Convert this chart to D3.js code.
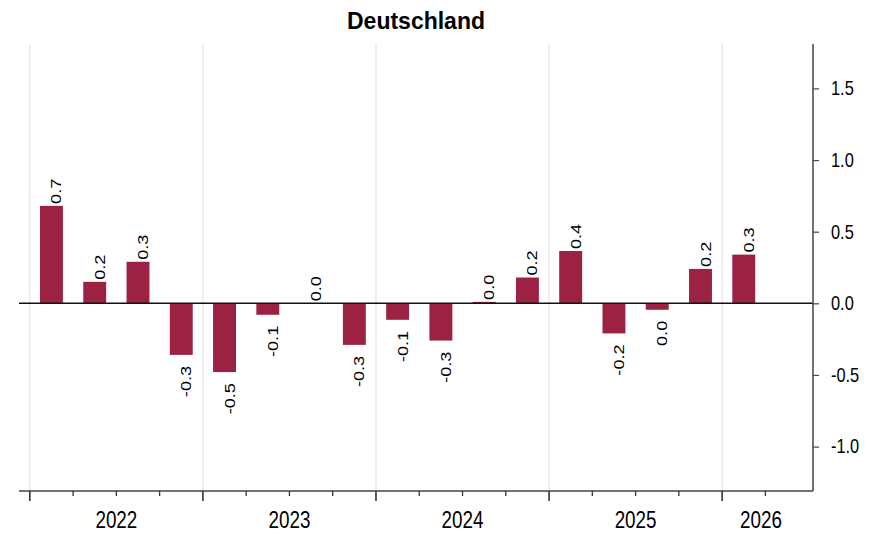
<!DOCTYPE html>
<html>
<head>
<meta charset="utf-8">
<script src="https://cdnjs.cloudflare.com/ajax/libs/d3/7.8.5/d3.min.js"></script>
<style>
	body { margin: 0; background: #fff; }
	svg { display: block; }
</style>
</head>
<body>
<svg id="chart" width="874" height="536"></svg>
<script>

// quarterly change, Deutschland
var quarters = ["2022Q1","2022Q2","2022Q3","2022Q4",
	"2023Q1","2023Q2","2023Q3","2023Q4",
	"2024Q1","2024Q2","2024Q3","2024Q4",
	"2025Q1","2025Q2","2025Q3","2025Q4",
	"2026Q1"];
var values = [0.68, 0.15, 0.29, -0.36,
	-0.48, -0.08, 0.0, -0.29,
	-0.115, -0.26, 0.01, 0.18,
	0.365, -0.21, -0.045, 0.24,
	0.34];
var labels = ["0.7","0.2","0.3","-0.3",
	"-0.5","-0.1","0.0","-0.3",
	"-0.1","-0.3","0.0","0.2",
	"0.4","-0.2","0.0","0.2",
	"0.3"];
var years = ["2022","2023","2024","2025","2026"];
var yTicks = [-1.0, -0.5, 0.0, 0.5, 1.0, 1.5];
var title = "Deutschland";

var svg = d3.select("#chart");

var pLeft = 19, pRight = 813, pTop = 44, pBottom = 491;
var nQ = years.length * 4; // quarter slots on the axis
var narrow = 0.82;         // condensed look for axis text

// x: quarter index, slot i runs from i to i+1
var x = d3.scaleLinear().domain([-0.25, 18.1]).range([pLeft, pRight]);
var y = d3.scaleLinear().domain([-1.31, 1.81]).range([pBottom, pTop]);
var step = x(1) - x(0);
var barW = step * 0.53;

// year grid lines
svg.append("g")
	.selectAll("line")
	.data(years)
	.enter()
	.append("line")
	.attr("x1", function(d, i){ return x(i * 4); })
	.attr("x2", function(d, i){ return x(i * 4); })
	.attr("y1", pTop)
	.attr("y2", pBottom)
	.style("stroke", "#e2e2e2")
	.style("stroke-width", 1.2);

// bars
svg.append("g")
	.selectAll("rect")
	.data(values)
	.enter()
	.append("rect")
	.attr("x", function(d, i){ return x(i + 0.5) - barW / 2; })
	.attr("width", barW)
	.attr("y", function(d){ return y(Math.max(d, 0)); })
	.attr("height", function(d){ return Math.abs(y(d) - y(0)); })
	.style("fill", "#9c2243");

// zero line
svg.append("line")
	.attr("x1", pLeft).attr("x2", pRight)
	.attr("y1", y(0)).attr("y2", y(0))
	.style("stroke", "#111")
	.style("stroke-width", 1.5);

// value labels, rotated (stretched a bit along the text)
svg.append("g")
	.selectAll("text")
	.data(values)
	.enter()
	.append("text")
	.attr("transform", function(d, i){
		var ty = d >= 0 ? y(d) - 2 : y(d) + 11;
		return "translate(" + x(i + 0.5) + "," + ty + ") rotate(-90) scale(1.25,1)";
	})
	.attr("dy", 10)
	.attr("text-anchor", function(d){ return d >= 0 ? "start" : "end"; })
	.attr("font-family", "'Liberation Sans', Arial, sans-serif")
	.attr("font-size", "14.5px")
	.attr("fill", "#000")
	.text(function(d, i){ return labels[i]; });

// x axis: line + quarter ticks
var xAxis = svg.append("g");
xAxis.append("line")
	.attr("x1", pLeft).attr("x2", pRight)
	.attr("y1", pBottom).attr("y2", pBottom)
	.style("stroke", "#444")
	.style("stroke-width", 1.5);

var tickIdx = d3.range(0, nQ - 2);
xAxis.selectAll(".qt")
	.data(tickIdx)
	.enter()
	.append("line")
	.attr("x1", function(d){ return x(d); })
	.attr("x2", function(d){ return x(d); })
	.attr("y1", pBottom)
	.attr("y2", function(d){ return d % 4 == 0 ? pBottom + 10 : pBottom + 5; })
	.style("stroke", "#333")
	.style("stroke-width", function(d){ return d % 4 == 0 ? 1.6 : 1.3; });

xAxis.selectAll(".yl")
	.data(years)
	.enter()
	.append("text")
	.attr("transform", function(d, i){
		var s = i * 4, e = Math.min(i * 4 + 4, quarters.length + 0.8);
		return "translate(" + (x(s) + x(e)) / 2 + ",528) scale(" + narrow + ",1)";
	})
	.attr("text-anchor", "middle")
	.attr("font-family", "'Liberation Sans', Arial, sans-serif")
	.attr("font-size", "23px")
	.attr("fill", "#000")
	.text(function(d){ return d; });

// y axis on the right
var yAxis = d3.axisRight(y)
	.tickValues(yTicks)
	.tickSize(6)
	.tickPadding(0)
	.tickFormat(d3.format(".1f"));

var gy = svg.append("g")
	.attr("transform", "translate(" + pRight + ",0)")
	.call(yAxis);
gy.select(".domain").remove();
gy.append("line")
	.attr("x1", 0).attr("x2", 0)
	.attr("y1", pTop).attr("y2", pBottom)
	.style("stroke", "#444")
	.style("stroke-width", 1.5);
gy.selectAll(".tick line").style("stroke", "#444").style("stroke-width", 1.2);
gy.selectAll(".tick text")
	.attr("x", null)
	.attr("transform", "translate(18,0) scale(" + narrow + ",1)")
	.attr("font-family", "'Liberation Sans', Arial, sans-serif")
	.attr("font-size", "20px")
	.attr("fill", "#000")
	.text(function(d){ return d3.format(".1f")(d).replace("\u2212", "-"); });

// title
svg.append("text")
	.attr("x", (pLeft + pRight) / 2)
	.attr("y", 29)
	.attr("text-anchor", "middle")
	.attr("font-family", "'Liberation Sans', Arial, sans-serif")
	.attr("font-weight", "bold")
	.attr("font-size", "23px")
	.attr("fill", "#000")
	.text(title);

</script>
</body>
</html>
